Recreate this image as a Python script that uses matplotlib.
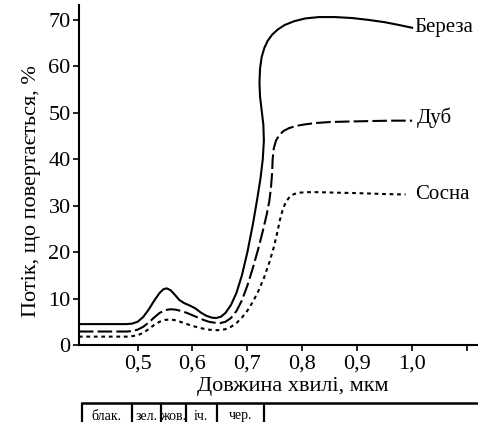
import matplotlib
matplotlib.use("Agg")
import matplotlib.pyplot as plt

plt.rcParams['font.family'] = ['Liberation Serif', 'DejaVu Serif']

# birch (solid) - reflected flux vs wavelength
birch_x = [0.393, 0.48, 0.49, 0.50, 0.51, 0.52, 0.53, 0.54, 0.547, 0.553,
           0.56, 0.568, 0.576, 0.585, 0.595, 0.605, 0.615, 0.625, 0.635, 0.643,
           0.652, 0.66, 0.67, 0.68, 0.69, 0.70, 0.71, 0.718, 0.724, 0.728,
           0.730, 0.729, 0.726, 0.723, 0.722, 0.723, 0.726, 0.731, 0.737, 0.745,
           0.755, 0.768, 0.785, 0.805, 0.83, 0.86, 0.89, 0.92, 0.95, 0.98, 1.0]
birch_y = [4.5, 4.5, 4.6, 5.0, 6.0, 7.6, 9.5, 11.2, 12.0, 12.2,
           11.8, 10.8, 9.7, 9.0, 8.5, 7.9, 7.0, 6.3, 5.9, 5.8,
           6.1, 6.9, 8.6, 11.2, 15.0, 20.0, 26.0, 31.5, 36.0, 40.0,
           44.0, 47.5, 50.5, 53.5, 56.5, 59.5, 62.0, 64.0, 65.5, 66.8,
           67.9, 68.9, 69.7, 70.3, 70.6, 70.6, 70.4, 70.0, 69.5, 68.8, 68.3]

# oak (dashed)
oak_x = [0.393, 0.48, 0.49, 0.50, 0.51, 0.52, 0.53, 0.54, 0.55, 0.56,
         0.57, 0.58, 0.59, 0.60, 0.61, 0.62, 0.63, 0.64, 0.65, 0.66,
         0.67, 0.68, 0.69, 0.70, 0.71, 0.72, 0.728, 0.735, 0.740, 0.743,
         0.745, 0.746, 0.748, 0.752, 0.758, 0.766, 0.776, 0.79, 0.805, 0.825,
         0.85, 0.88, 0.92, 0.96, 1.0]
oak_y = [2.9, 2.9, 3.0, 3.3, 3.9, 4.8, 5.9, 6.9, 7.5, 7.7,
         7.6, 7.3, 6.9, 6.4, 5.9, 5.4, 5.0, 4.8, 4.7, 5.0,
         5.8, 7.3, 9.6, 12.8, 16.6, 20.8, 24.5, 28.0, 31.0, 34.0,
         37.0, 40.0, 42.3, 44.0, 45.2, 46.1, 46.7, 47.2, 47.5, 47.8,
         48.0, 48.1, 48.2, 48.3, 48.3]

# pine (dotted)
pine_x = [0.393, 0.48, 0.49, 0.50, 0.51, 0.52, 0.53, 0.54, 0.55, 0.56,
          0.57, 0.58, 0.59, 0.60, 0.61, 0.62, 0.63, 0.64, 0.65, 0.66,
          0.67, 0.68, 0.69, 0.70, 0.71, 0.72, 0.73, 0.74, 0.748, 0.754,
          0.759, 0.764, 0.77, 0.777, 0.785, 0.795, 0.81, 0.83, 0.86, 0.90,
          0.95, 0.988]
pine_y = [1.8, 1.8, 1.9, 2.1, 2.6, 3.4, 4.3, 5.0, 5.4, 5.5,
          5.3, 4.9, 4.5, 4.1, 3.8, 3.5, 3.3, 3.2, 3.2, 3.4,
          3.9, 4.7, 5.9, 7.4, 9.3, 11.6, 14.4, 17.8, 21.0, 24.0,
          26.8, 29.0, 30.8, 31.9, 32.5, 32.8, 32.9, 32.9, 32.8, 32.7,
          32.5, 32.4]

names = ["Береза", "Дуб", "Сосна"]
name_x = [1.005, 1.008, 1.005]
name_y = [68.3, 48.9, 32.3]

x_ticks = [0.5, 0.6, 0.7, 0.8, 0.9, 1.0, 1.1]
x_tick_labels = ["0,5", "0,6", "0,7", "0,8", "0,9", "1,0", ""]
y_ticks = [0, 10, 20, 30, 40, 50, 60, 70]

band_edges = [0.398, 0.489, 0.542, 0.588, 0.644, 0.730]
band_names = ["блак.", "зел.", "жов.", "іч.", "чер."]

W, H = 478, 422
fig = plt.figure(figsize=(W / 100, H / 100), dpi=100)
ax = fig.add_axes([79 / W, 1 - 345 / H, 399 / W, 340 / H])

ax.plot(birch_x, birch_y, color="black", lw=1.5, solid_joinstyle="round")
ax.plot(oak_x, oak_y, color="black", lw=1.5, dashes=(7, 2))
ax.plot(pine_x, pine_y, color="black", lw=1.5, dashes=(1.8, 1.8))

for nm, tx, ty in zip(names, name_x, name_y):
    ax.text(tx, ty, nm, fontsize=15, va="center", ha="left")

ax.set_xlim(0.3933, 1.12)
ax.set_ylim(0, 73.2)
ax.set_xticks(x_ticks)
ax.set_xticklabels(x_tick_labels)
ax.set_yticks(y_ticks)
ax.tick_params(labelsize=16, direction="out", length=4, width=1.2)
ax.tick_params(axis="x", pad=3)
ax.tick_params(axis="y", pad=2)
ax.spines["top"].set_visible(False)
ax.spines["right"].set_visible(False)
ax.spines["left"].set_linewidth(1.5)
ax.spines["bottom"].set_linewidth(1.5)

ax.set_xlabel("Довжина хвилі, мкм", fontsize=16)
ax.xaxis.set_label_coords(0.536, -0.093)
ax.set_ylabel("Потік, що повертається, %", fontsize=16)
ax.yaxis.set_label_coords(-0.095, 0.453)

# spectral colour band under the axis
bx = fig.add_axes([79 / W, 0, 399 / W, 20 / H])
bx.set_xlim(0.3933, 1.12)
bx.set_ylim(0, 1)
bx.axis("off")
bx.plot([band_edges[0], 1.12], [0.97, 0.97], color="black", lw=1.8, clip_on=False)
bx.vlines(band_edges, 0, 0.97, color="black", lw=1.6)
for i, nm in enumerate(band_names):
    bx.text((band_edges[i] + band_edges[i + 1]) / 2, 0.3, nm, fontsize=10,
            ha="center", va="center")

fig.savefig("out.png", dpi=100)
